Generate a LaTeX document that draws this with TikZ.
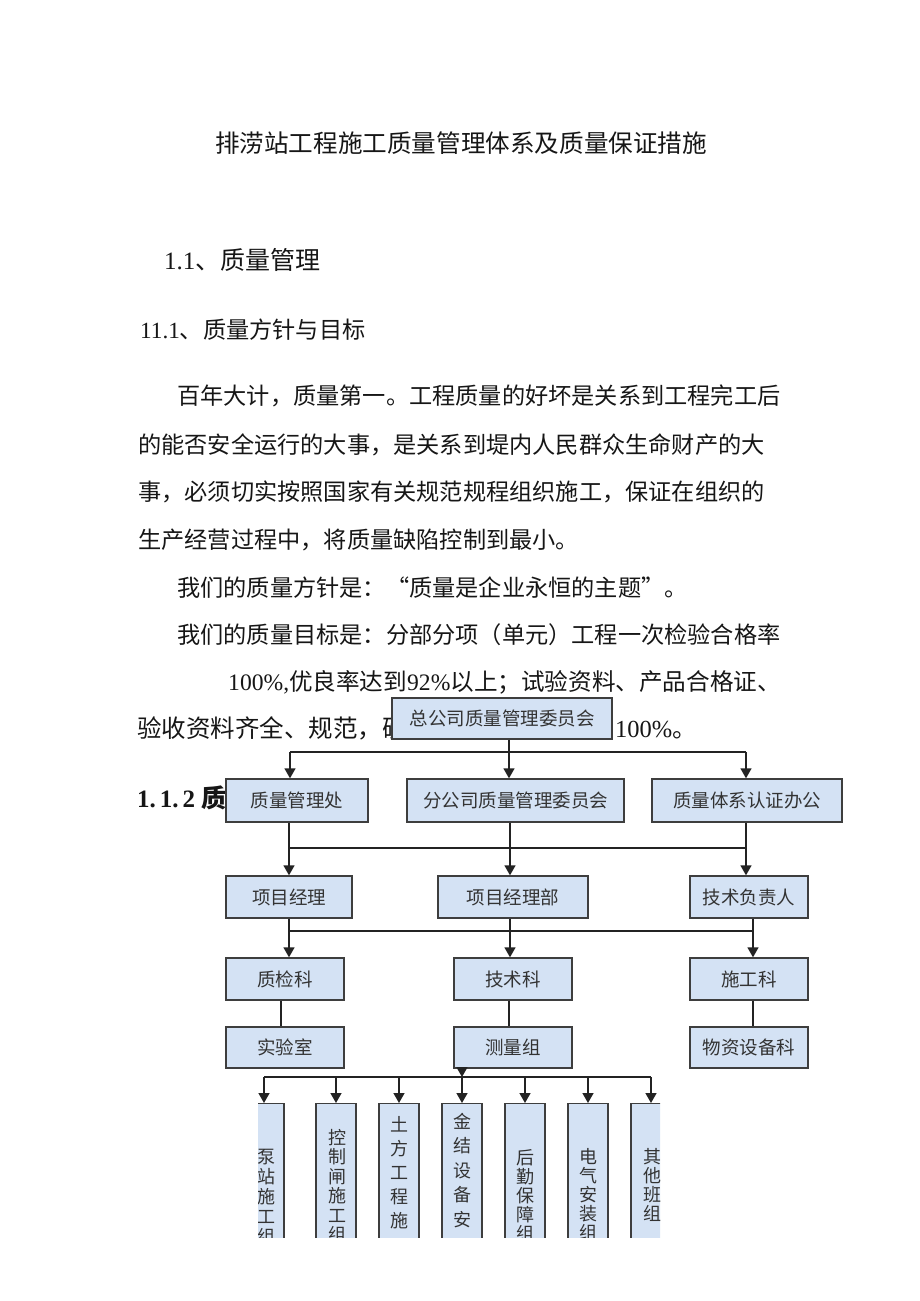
\documentclass[tikz,border=0pt]{standalone}
\usepackage{fontspec}
\setmainfont{Liberation Serif}
\newfontfamily\cjk{Noto Sans CJK SC}
\usepackage{xcolor}
\usetikzlibrary{arrows.meta,positioning}
\definecolor{boxfill}{RGB}{212,226,244}
\definecolor{boxline}{RGB}{62,62,62}
\definecolor{linkc}{RGB}{35,35,35}
\definecolor{inkc}{RGB}{22,22,22}
\newcommand{\fsz}[1]{\fontsize{#1}{#1}\selectfont}

\begin{document}
\begin{tikzpicture}[x=1pt,y=-1pt,>={Triangle[width=11pt,length=10pt]}]
\tikzset{
  txt/.style={inner sep=0pt,text=inkc,anchor=west},
  org/.style={draw=boxline,fill=boxfill,line width=1.4pt,inner sep=0pt,text=black!80,font=\cjk\fsz{18.5}},
  orgrow/.style={org,minimum height=42},
  col/.style={org,minimum width=40,minimum height=200,anchor=north},
  coltxt/.style={inner sep=0pt,anchor=north,align=center,text=black!80},
  link/.style={draw=linkc,line width=1.5pt},
  arr/.style={link,->}
}
\useasboundingbox[fill=white] (0,0) rectangle (920,1301);

\node[txt,anchor=center,font=\cjk\fsz{24.6}] (title) at (461,143) {排涝站工程施工质量管理体系及质量保证措施};
\node[txt,font=\fsz{25}] (h11) at (164,260) {1.1{\cjk 、质量管理}};
\node[txt,font=\fsz{23.2}] (h111) at (140,330) {11.1{\cjk 、质量方针与目标}};
\node[txt,font=\cjk\fsz{23.2}] (p1) at (177,396) {百年大计，质量第一。工程质量的好坏是关系到工程完工后};
\node[txt,font=\cjk\fsz{23.2}] (p2) at (138,445) {的能否安全运行的大事，是关系到堤内人民群众生命财产的大};
\node[txt,font=\cjk\fsz{23.2}] (p3) at (138,492) {事，必须切实按照国家有关规范规程组织施工，保证在组织的};
\node[txt,font=\cjk\fsz{23.2}] (p4) at (138,540) {生产经营过程中，将质量缺陷控制到最小。};
\node[txt,font=\cjk\fsz{23.2}] (p5) at (177,588) {我们的质量方针是：“质量是企业永恒的主题”。};
\node[txt,font=\cjk\fsz{23.2}] (p6) at (177,635) {我们的质量目标是：分部分项（单元）工程一次检验合格率};
\node[txt,font=\fsz{23.6}] (p7) at (228,682) {100\%,{\cjk 优良率达到}92\%{\cjk 以上；试验资料、产品合格证、}};
\node[txt,font=\cjk\fsz{24.5}] (p8) at (137,728) {验收资料齐全、规范，确};
\node[txt,font=\fsz{24.5}] (p8b) at (615,730) {100\%{\cjk 。}};
\node[txt,font=\bfseries\fsz{25}] (h112) at (137,798) {1.\kern4pt1.\kern4pt2\kern6pt{\cjk 质}};

\node[org,minimum width=220,minimum height=41] (zong) at (502,718.5) {总公司质量管理委员会};
\node[org,minimum width=142,minimum height=43] (glc) at (297,800.5) {质量管理处};
\node[org,minimum width=217,minimum height=43] (fgs) at (515.5,800.5) {分公司质量管理委员会};
\node[org,minimum width=190,minimum height=43] (rzb) at (747,800.5) {质量体系认证办公};
\node[orgrow,minimum width=126] (xmjl) at (289,897) {项目经理};
\node[orgrow,minimum width=150] (xmb) at (513,897) {项目经理部};
\node[orgrow,minimum width=118] (jsfz) at (749,897) {技术负责人};
\node[orgrow,minimum width=118] (zjk) at (285,979) {质检科};
\node[orgrow,minimum width=118] (jsk) at (513,979) {技术科};
\node[orgrow,minimum width=118] (sgk) at (749,979) {施工科};
\node[orgrow,minimum width=118,minimum height=41] (syy) at (285,1047.5) {实验室};
\node[orgrow,minimum width=118,minimum height=41] (clz) at (513,1047.5) {测量组};
\node[orgrow,minimum width=118,minimum height=41] (wz) at (749,1047.5) {物资设备科};

\coordinate (b1a) at (290,752);
\coordinate (b1b) at (509,752);
\coordinate (b1c) at (746,752);
\draw[link] (zong.south -| b1b) -- (b1b);
\draw[link] (b1a) -- (b1c);
\draw[arr] (b1a) -- (b1a |- glc.north);
\draw[arr] (b1b) -- (b1b |- fgs.north);
\draw[arr] (b1c) -- (b1c |- rzb.north);

\coordinate (b2a) at (289,848);
\coordinate (b2b) at (510,848);
\coordinate (b2c) at (746,848);
\draw[link] (glc.south -| b2a) -- (b2a);
\draw[link] (fgs.south -| b2b) -- (b2b);
\draw[link] (rzb.south -| b2c) -- (b2c);
\draw[link] (b2a) -- (b2c);
\draw[arr] (b2a) -- (b2a |- xmjl.north);
\draw[arr] (b2b) -- (b2b |- xmb.north);
\draw[arr] (b2c) -- (b2c |- jsfz.north);

\coordinate (b3a) at (289,931);
\coordinate (b3b) at (510,931);
\coordinate (b3c) at (753,931);
\draw[link] (xmjl.south -| b3a) -- (b3a);
\draw[link] (xmb.south -| b3b) -- (b3b);
\draw[link] (jsfz.south -| b3c) -- (b3c);
\draw[link] (b3a) -- (b3c);
\draw[arr] (b3a) -- (b3a |- zjk.north);
\draw[arr] (b3b) -- (b3b |- jsk.north);
\draw[arr] (b3c) -- (b3c |- sgk.north);

\draw[link] ([xshift=-4pt]zjk.south) -- ([xshift=-4pt]syy.north);
\draw[link] ([xshift=-4pt]jsk.south) -- ([xshift=-4pt]clz.north);
\draw[link] ([xshift=4pt]sgk.south) -- ([xshift=4pt]wz.north);

\begin{scope}
\clip (258,1090) rectangle (660,1237);
\node[col] (v1) at (264,1103) {};
\node[col] (v2) at (336,1103) {};
\node[col] (v3) at (399,1103) {};
\node[col] (v4) at (462,1103) {};
\node[col] (v5) at (525,1103) {};
\node[col] (v6) at (588,1103) {};
\node[col] (v7) at (651,1103) {};
\node[coltxt,font=\cjk\fontsize{18}{20}\selectfont] (t1) at (266,1149) {泵\\站\\施\\工\\组};
\node[coltxt,font=\cjk\fontsize{18}{19.5}\selectfont] (t2) at (337,1129) {控\\制\\闸\\施\\工\\组};
\node[coltxt,font=\cjk\fontsize{18}{24}\selectfont] (t3) at (399,1116) {土\\方\\工\\程\\施};
\node[coltxt,font=\cjk\fontsize{18}{24.5}\selectfont] (t4) at (462,1113) {金\\结\\设\\备\\安};
\node[coltxt,font=\cjk\fontsize{18}{19}\selectfont] (t5) at (525,1149) {后\\勤\\保\\障\\组};
\node[coltxt,font=\cjk\fontsize{18}{19}\selectfont] (t6) at (588,1148) {电\\气\\安\\装\\组};
\node[coltxt,font=\cjk\fontsize{18}{19}\selectfont] (t7) at (652,1148) {其\\他\\班\\组};
\end{scope}

\coordinate (b4l) at (264,1077);
\draw[arr] (clz.south -| v4.north) -- (b4l -| v4.north);
\draw[link] (b4l) -- (b4l -| v7.north);
\foreach \n in {1,...,7}
  \draw[arr] (b4l -| v\n.north) -- (v\n.north);
\end{tikzpicture}
\end{document}
